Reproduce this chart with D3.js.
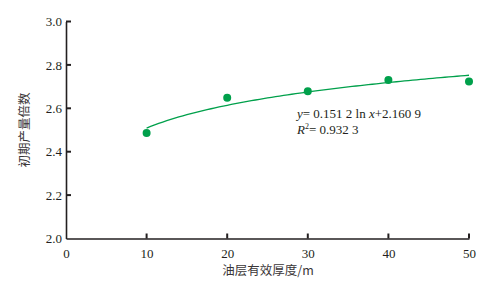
<!DOCTYPE html>
<html lang="zh">
<head>
<meta charset="UTF-8">
<title>chart</title>
<style>
  body { margin: 0; background: #fff; }
  .tick text { font-family: "Liberation Serif", "DejaVu Serif", serif; font-size: 13px; fill: #231f20; }
  .axis-label { font-family: "Noto Sans CJK SC", sans-serif; font-size: 12.5px; fill: #3a3637; }
  .eq { font-family: "Liberation Serif", serif; font-size: 13px; fill: #231f20; }
</style>
</head>
<body>
<script src="https://d3js.org/d3.v7.min.js"></script>
<script>
  var thickness = [10, 20, 30, 40, 50];
  var multiple = [2.486, 2.649, 2.679, 2.730, 2.724];
  var xTicks = [0, 10, 20, 30, 40, 50];
  var yTicks = [2.0, 2.2, 2.4, 2.6, 2.8, 3.0];
  var fitA = 0.1512, fitB = 2.1609;

  var width = 497, height = 283;
  var green = '#00a04b', ink = '#231f20';

  var svg = d3.select('body').append('svg')
    .attr('width', width)
    .attr('height', height);

  var x = d3.scaleLinear().domain([0, 50]).range([66, 469]);
  var y = d3.scaleLinear().domain([2.0, 3.0]).range([238.5, 21.5]);

  // x axis
  var xAxis = svg.append('g')
    .attr('transform', 'translate(0,' + y(2.0) + ')')
    .call(d3.axisBottom(x).tickValues(xTicks).tickSize(0).tickPadding(10).tickFormat(d3.format('d')));
  xAxis.select('.domain').attr('stroke', ink).attr('stroke-width', 1.6);
  svg.selectAll('.xtick').data(xTicks.slice(1)).enter().append('line')
    .attr('x1', function(d) { return x(d); }).attr('x2', function(d) { return x(d); })
    .attr('y1', y(2.0)).attr('y2', y(2.0) - 5)
    .attr('stroke', ink).attr('stroke-width', 2);

  // y axis
  var yAxis = svg.append('g')
    .attr('transform', 'translate(' + x(0) + ',0)')
    .call(d3.axisLeft(y).tickValues(yTicks).tickSize(0).tickPadding(4).tickFormat(d3.format('.1f')));
  yAxis.select('.domain').attr('stroke', ink).attr('stroke-width', 1.6);
  svg.selectAll('.ytick').data(yTicks.slice(1)).enter().append('line')
    .attr('x1', x(0)).attr('x2', x(0) + 5)
    .attr('y1', function(d) { return y(d); }).attr('y2', function(d) { return y(d); })
    .attr('stroke', ink).attr('stroke-width', 2);

  // trend line from the fitted equation
  var fitXs = d3.range(10, 50.01, 0.5);
  var line = d3.line()
    .x(function(d) { return x(d); })
    .y(function(d) { return y(fitA * Math.log(d) + fitB); });
  svg.append('path')
    .datum(fitXs)
    .attr('d', line)
    .attr('fill', 'none')
    .attr('stroke', green)
    .attr('stroke-width', 1.3);

  // points
  svg.selectAll('.pt').data(thickness).enter().append('circle')
    .attr('cx', function(d) { return x(d); })
    .attr('cy', function(d, i) { return y(multiple[i]); })
    .attr('r', 4)
    .attr('fill', green);

  // equation
  var eq = svg.append('text').attr('class', 'eq').attr('x', 297).attr('y', 118);
  eq.append('tspan').attr('font-style', 'italic').text('y');
  eq.append('tspan').text('= 0.151 2 ln ');
  eq.append('tspan').attr('font-style', 'italic').text('x');
  eq.append('tspan').text('+2.160 9');

  var r2 = svg.append('text').attr('class', 'eq').attr('x', 297).attr('y', 134);
  r2.append('tspan').attr('font-style', 'italic').text('R');
  r2.append('tspan').attr('font-size', 8).attr('dy', -5).text('2');
  r2.append('tspan').attr('dy', 5).text('= 0.932 3');

  // axis labels
  svg.append('text').attr('class', 'axis-label')
    .attr('x', 268).attr('y', 275)
    .attr('text-anchor', 'middle')
    .text('油层有效厚度/m');
  svg.append('text').attr('class', 'axis-label')
    .attr('transform', 'translate(29,130) rotate(-90)')
    .attr('text-anchor', 'middle')
    .text('初期产量倍数');
</script>
</body>
</html>
